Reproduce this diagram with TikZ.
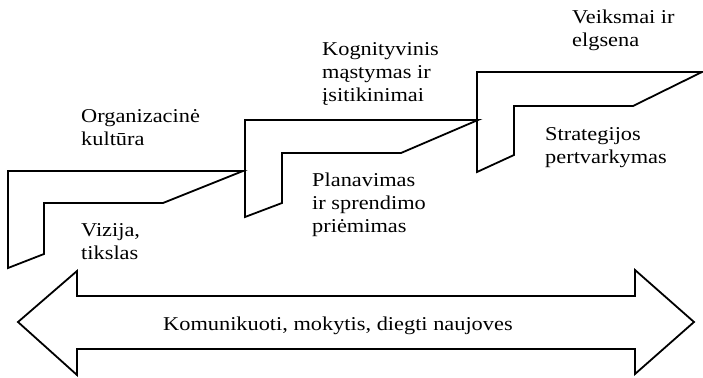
\documentclass[tikz,border=0pt]{standalone}
\usepackage{fontspec}
\setmainfont{Liberation Serif}
\begin{document}
\begin{tikzpicture}[x=1pt,y=-1pt,
  stepline/.style={line width=1.8pt, line join=miter},
  lbl/.style={inner sep=0pt, align=left, xscale=1.14,
    font=\fontsize{19.6}{23}\selectfont}]
\useasboundingbox (0,0) rectangle (703,377);

% three rising steps
\draw[stepline] (8,171) -- (243,171) -- (163,203) -- (44,203) -- (44,254) -- (8,268) -- cycle;
\draw[stepline] (245,120) -- (478,120) -- (401,153) -- (282,153) -- (282,203) -- (245,217) -- cycle;
\draw[stepline] (477,72) -- (702,72) -- (633,106) -- (514,106) -- (514,155) -- (477,172) -- cycle;

% double-headed arrow along the bottom
\draw[stepline] (18,322) -- (77,271) -- (77,296) -- (635,296) -- (635,270) -- (694,322)
  -- (635,374) -- (635,349) -- (77,349) -- (77,375) -- cycle;

% labels (anchored at the baseline of their last line)
\node[lbl, anchor=base west] (org) at (81,145) {Organizacinė\\kultūra};
\node[lbl, anchor=base west] (viz) at (81,259) {Vizija,\\tikslas};
\node[lbl, anchor=base west] (kog) at (322,102) {Kognityvinis\\mąstymas ir\\įsitikinimai};
\node[lbl, anchor=base west] (plan) at (312,232) {Planavimas\\ir sprendimo\\priėmimas};
\node[lbl, anchor=base west] (veik) at (572,47) {Veiksmai ir\\elgsena};
\node[lbl, anchor=base west] (strat) at (545,163) {Strategijos\\pertvarkymas};
\node[lbl, anchor=base west] (kom) at (163,330) {Komunikuoti, mokytis, diegti naujoves};
\end{tikzpicture}
\end{document}
